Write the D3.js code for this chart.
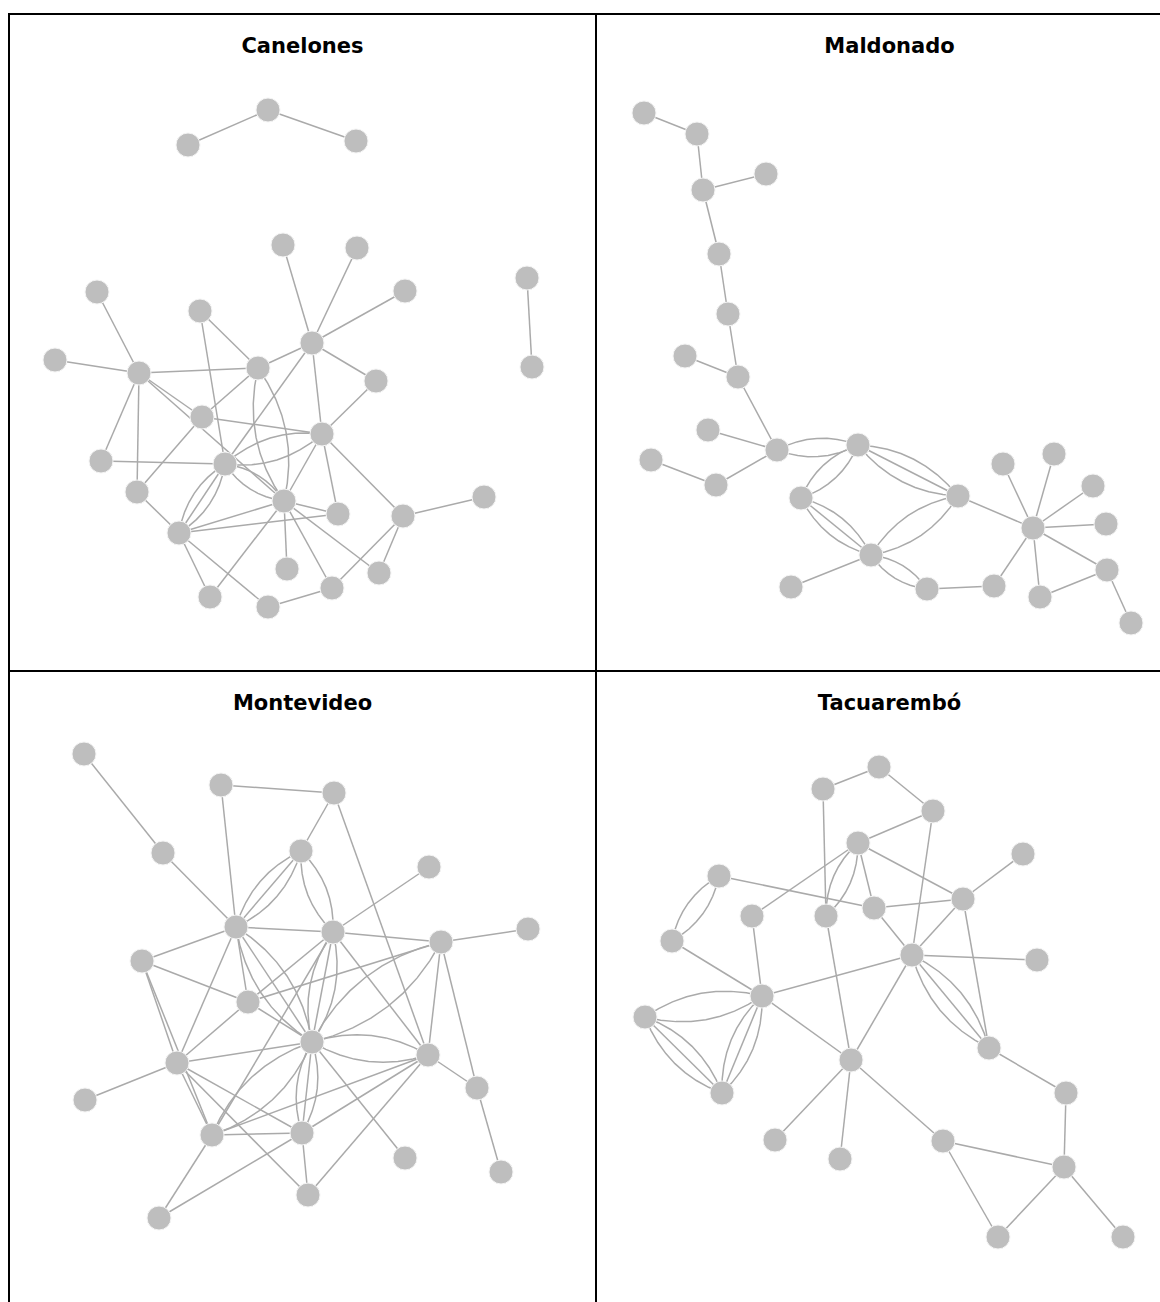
<!DOCTYPE html>
<html>
<head>
<meta charset="utf-8">
<script src="https://cdn.jsdelivr.net/npm/d3@7"></script>
<style>
  body { margin: 0; background: #fff; }
  .panelTitle { font-family: "DejaVu Sans", Verdana, sans-serif; font-weight: bold; font-size: 21px; }
</style>
</head>
<body>
<script>
// ----- Data: node layouts (panel-local units) and edge lists -----
const departments = ["Canelones", "Maldonado", "Montevideo", "Tacuarembó"];

const canelonesIds = ["a1","a2","a3","b1","b2","n1","n2","n3","n4","n5","n6","n7","n8","n9","n10","n11","n12","n13","n14","n15","n16","n17","n18","n19","n20","n21","n22","n23","n24","n25"];
const canelonesX = [179,259,347,518,523,274,348,88,396,191,46,130,249,303,367,193,313,92,216,128,275,329,394,475,170,278,370,323,201,259];
const canelonesY = [131,96,127,264,353,231,234,278,277,297,346,359,354,329,367,403,420,447,450,478,487,500,502,483,519,555,559,574,583,593];
const canelonesEdges = ["a1-a2","a2-a3","b1-b2",
  "n1-n9","n2-n9","n4-n9","n10-n9","n8-n9","n12-n9","n14-n9",
  "n3-n7","n6-n7","n7-n8","n7-n11","n7-n16","n7-n13","n7-n15",
  "n5-n8","n5-n14","n8-n11","n8-n16","n8-n16",
  "n13-n14","n11-n15","n11-n12","n15-n20",
  "n12-n14","n12-n14","n14-n16","n14-n16","n14-n20","n14-n20","n14-n20",
  "n12-n16","n12-n17","n12-n18","n12-n10",
  "n16-n20","n16-n17","n17-n20","n16-n21","n16-n23","n16-n24","n16-n22",
  "n20-n24","n20-n25","n25-n23","n23-n18","n22-n18","n18-n19"];

const maldonadoIds = ["m1","m2","m3","m4","m5","m6","m7","m8","m9","m10","m11","m12","m13","m14","m15","m16","m17","m18","m19","m20","m21","m22","m23","m24","m25","m26","m27"];
const maldonadoX = [48,101,170,107,123,132,89,142,112,55,181,120,262,205,362,407,458,497,437,510,275,195,331,398,444,511,535];
const maldonadoY = [99,120,160,176,240,300,342,363,416,446,436,471,431,484,482,450,440,472,514,510,541,573,575,572,583,556,609];
const maldonadoEdges = ["m1-m2","m2-m4","m3-m4","m4-m5","m5-m6","m6-m8","m7-m8","m8-m11","m9-m11","m10-m12","m12-m11",
  "m11-m13","m11-m13","m13-m14","m13-m14","m13-m15","m13-m15","m13-m15",
  "m14-m21","m14-m21","m14-m21","m15-m21","m15-m21","m21-m23","m21-m23",
  "m21-m22","m23-m24","m24-m19","m15-m19",
  "m19-m16","m19-m17","m19-m18","m19-m20","m19-m26","m19-m25","m25-m26","m26-m27"];

const montevideoIds = ["v1","v2","v3","v4","v5","v6","v7","v8","v9","v10","v11","v12","v13","v14","v15","v16","v17","v18","v19","v20","v21","v22","v23"];
const montevideoX = [75,212,325,154,292,420,227,324,432,519,133,239,303,168,419,76,468,203,293,396,492,299,150];
const montevideoY = [83,114,122,182,180,196,256,261,271,258,290,331,371,392,384,429,417,464,462,487,501,524,547];
const montevideoEdges = ["v1-v4","v4-v7","v2-v3","v2-v7","v3-v5","v3-v15",
  "v5-v7","v5-v7","v5-v7","v5-v8","v5-v8",
  "v7-v8","v8-v6","v8-v9","v9-v10","v7-v11","v11-v12","v7-v12","v7-v14",
  "v7-v13","v7-v13","v7-v13","v8-v13","v8-v13","v8-v13",
  "v8-v12","v8-v18","v8-v15","v9-v12","v9-v13","v9-v13","v9-v15","v9-v17",
  "v13-v15","v13-v15","v14-v13","v12-v13","v13-v19","v13-v19","v13-v19",
  "v13-v18","v13-v18","v13-v20","v11-v14","v11-v18","v14-v18","v14-v12","v14-v16",
  "v14-v19","v14-v22","v18-v19","v18-v15","v19-v15","v19-v22","v19-v23","v23-v18",
  "v22-v15","v15-v17","v17-v21"];

const tacuaremboIds = ["t1","t2","t3","t4","t5","t6","t7","t8","t9","t10","t11","t12","t13","t14","t15","t16","t17","t18","t19","t20","t21","t22","t23","t24","t25"];
const tacuaremboX = [283,227,337,262,427,123,156,230,278,367,76,316,441,166,49,393,255,470,126,347,179,244,468,402,527];
const tacuaremboY = [96,118,140,172,183,205,245,245,237,228,270,284,289,325,346,377,389,422,422,470,469,488,496,566,566];
const tacuaremboEdges = ["t1-t2","t1-t3","t3-t4","t3-t12","t2-t8","t4-t8","t4-t8","t4-t9","t4-t10","t4-t7",
  "t6-t9","t9-t10","t10-t5","t10-t12","t10-t16","t9-t12","t6-t11","t6-t11","t11-t14","t7-t14","t14-t12",
  "t14-t15","t14-t15","t15-t19","t15-t19","t15-t19","t14-t19","t14-t19","t14-t19",
  "t14-t17","t8-t17","t12-t17","t12-t13","t12-t16","t12-t16","t12-t16",
  "t16-t18","t18-t23","t17-t21","t17-t22","t17-t20","t20-t23","t20-t24","t23-t24","t23-t25"];

const panels = [
  {ids: canelonesIds, x: canelonesX, y: canelonesY, edges: canelonesEdges},
  {ids: maldonadoIds, x: maldonadoX, y: maldonadoY, edges: maldonadoEdges},
  {ids: montevideoIds, x: montevideoX, y: montevideoY, edges: montevideoEdges},
  {ids: tacuaremboIds, x: tacuaremboX, y: tacuaremboY, edges: tacuaremboEdges}
];

// ----- Layout -----
const width = 1160, height = 1302;
const gridLeft = 9, gridTop = 14, cellW = 587, cellH = 657;
const nodeR = 12;

const svg = d3.select("body")
    .append("svg")
    .attr("width", width)
    .attr("height", height);

const line = d3.line();

// multi-edges get spread curvature like igraph's curve_multiple
function curvedPath(p, q, c) {
    if (c === 0) return line([p, q]);
    const mx = (p[0] + q[0]) / 2, my = (p[1] + q[1]) / 2;
    const cx = mx - c * 0.45 * (q[1] - p[1]);
    const cy = my + c * 0.45 * (q[0] - p[0]);
    const pts = d3.range(0, 9).map(i => {
        const t = i / 8, u = 1 - t;
        return [u*u*p[0] + 2*u*t*cx + t*t*q[0], u*u*p[1] + 2*u*t*cy + t*t*q[1]];
    });
    return line(pts);
}

panels.forEach((panel, k) => {
    const x0 = gridLeft + (k % 2) * cellW;
    const y0 = gridTop + Math.floor(k / 2) * cellH;

    const xScale = d3.scaleLinear().domain([0, cellW]).range([x0, x0 + cellW]);
    const yScale = d3.scaleLinear().domain([0, cellH]).range([y0, y0 + cellH]);

    const g = svg.append("g");

    // cell border
    g.append("rect")
        .attr("x", x0)
        .attr("y", y0)
        .attr("width", cellW)
        .attr("height", cellH)
        .attr("fill", "none")
        .attr("stroke", "#000")
        .attr("stroke-width", 2);

    g.append("text")
        .attr("class", "panelTitle")
        .attr("x", x0 + cellW / 2)
        .attr("y", y0 + 39)
        .attr("text-anchor", "middle")
        .text(departments[k]);

    const pos = {};
    panel.ids.forEach((id, i) => { pos[id] = [xScale(panel.x[i]), yScale(panel.y[i])]; });

    // group multi-edges
    const groups = d3.group(panel.edges, e => e);
    const edgeList = [];
    groups.forEach((arr, key) => {
        const [s, t] = key.split("-");
        const m = arr.length;
        arr.forEach((e, i) => {
            const c = m === 1 ? 0 : -0.5 + i / (m - 1);
            edgeList.push({s: s, t: t, c: c});
        });
    });

    g.selectAll(".edge")
        .data(edgeList)
        .enter()
        .append("path")
        .attr("class", "edge")
        .attr("d", d => curvedPath(pos[d.s], pos[d.t], d.c))
        .attr("fill", "none")
        .attr("stroke", "#aaaaaa")
        .attr("stroke-width", 1.5);

    g.selectAll(".node")
        .data(panel.ids)
        .enter()
        .append("circle")
        .attr("class", "node")
        .attr("cx", d => pos[d][0])
        .attr("cy", d => pos[d][1])
        .attr("r", nodeR)
        .attr("fill", "#bebebe")
        .attr("stroke", "#f4f4f4")
        .attr("stroke-width", 1);
});
</script>
</body>
</html>
